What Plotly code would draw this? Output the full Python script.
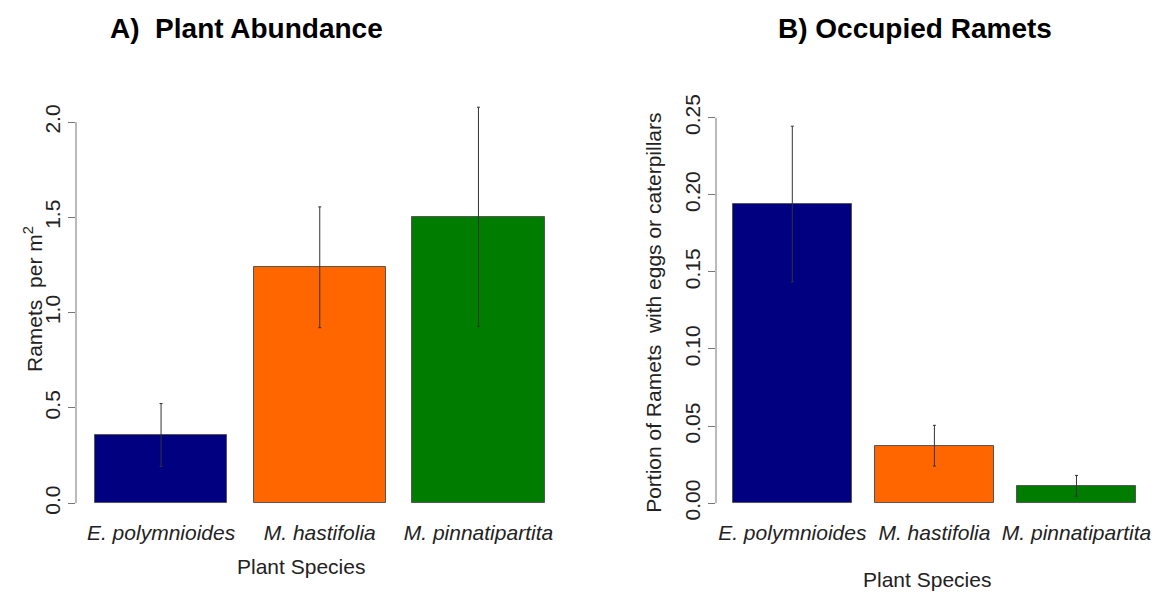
import plotly.graph_objects as go

# Plant species and summary statistics (mean and standard error)
species = ["E. polymnioides", "M. hastifolia", "M. pinnatipartita"]
bar_colors = ["#000080", "#FF6600", "#007D00"]

ramets_per_m2 = [0.358, 1.238, 1.503]
ramets_se = [0.165, 0.317, 0.575]

occupied_portion = [0.194, 0.0373, 0.0113]
occupied_se = [0.0505, 0.0132, 0.0067]

abund_ticks = [0.0, 0.5, 1.0, 1.5, 2.0]
occ_ticks = [0.00, 0.05, 0.10, 0.15, 0.20, 0.25]

FONT = "Liberation Sans, Arial, Helvetica, sans-serif"
W, H = 1173, 592
positions = list(range(len(species)))

fig = go.Figure()


def add_panel(values, errors, xa, ya):
    fig.add_trace(go.Bar(
        x=positions, y=values, width=0.835,
        marker=dict(color=bar_colors, line=dict(color="#555555", width=1)),
        error_y=dict(type="data", array=errors, visible=True,
                     color="#333333", thickness=1, width=1.5),
        xaxis=xa, yaxis=ya, showlegend=False, hoverinfo="skip",
    ))


add_panel(ramets_per_m2, ramets_se, "x", "y")
add_panel(occupied_portion, occupied_se, "x2", "y2")

y_dom = [1 - 520 / H, 1 - 95 / H]
tick_font = dict(family=FONT, size=21, color="#222222")

common_x = dict(
    tickmode="array", tickvals=positions, ticktext=species,
    tickfont=dict(family=FONT, size=21, color="#222222", style="italic"),
    showgrid=False, zeroline=False, showline=False, ticks="",
    ticklabelstandoff=-2,
)
common_y = dict(
    showgrid=False, zeroline=False, showline=False,
    ticks="outside", ticklen=7, tickwidth=1, tickcolor="#777777",
    tickangle=-90, tickfont=tick_font,
)

fig.update_layout(
    width=W, height=H,
    margin=dict(l=0, r=0, t=0, b=0),
    paper_bgcolor="white", plot_bgcolor="white",
    bargap=0,
    xaxis=dict(domain=[76 / W, 563.5 / W], range=[-0.536, 2.536],
               anchor="y", **common_x),
    yaxis=dict(domain=y_dom, range=[-0.0868, 2.121], anchor="x",
               tickvals=abund_ticks, tickformat=".1f", **common_y),
    xaxis2=dict(domain=[716 / W, 1152.8 / W], range=[-0.537, 2.537],
                anchor="y2", **common_x),
    yaxis2=dict(domain=y_dom, range=[-0.01072, 0.2621], anchor="x2",
                tickvals=occ_ticks, tickformat=".2f", **common_y),
)

# Axis lines spanning only the labelled tick range
fig.add_shape(type="line", xref="x domain", yref="y", x0=0, x1=0,
              y0=abund_ticks[0], y1=abund_ticks[-1],
              line=dict(color="#777777", width=1))
fig.add_shape(type="line", xref="x2 domain", yref="y2", x0=0, x1=0,
              y0=occ_ticks[0], y1=occ_ticks[-1],
              line=dict(color="#777777", width=1))


def px_ann(text, x, y, size, angle=0, bold=False, color="#222222"):
    fig.add_annotation(
        text=f"<b>{text}</b>" if bold else text,
        xref="paper", yref="paper", x=x / W, y=1 - y / H,
        xanchor="center", yanchor="middle", showarrow=False,
        textangle=angle, font=dict(family=FONT, size=size, color=color),
    )


# Panel titles
px_ann("A)\u00a0 Plant Abundance", 246, 24, 28, bold=True, color="#000000")
px_ann("B) Occupied Ramets", 915, 24, 28, bold=True, color="#000000")

# Axis titles
px_ann("Plant Species", 301, 567, 21)
px_ann("Plant Species", 927, 580, 21)
px_ann("Ramets\u00a0 per m<sup>2</sup>", 33, 297, 21, angle=-90)
px_ann("Portion of Ramets\u00a0 with eggs or caterpillars", 654, 311, 21, angle=-90)

fig.write_html("out.html")
